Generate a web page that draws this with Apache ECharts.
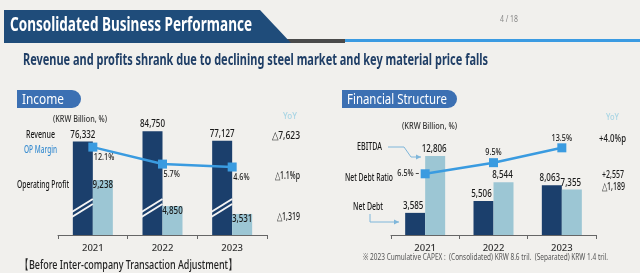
<!DOCTYPE html>
<html>
<head>
<meta charset="utf-8">
<script src="https://cdn.jsdelivr.net/npm/echarts@6/dist/echarts.min.js"></script>
<style>
  html, body { margin: 0; padding: 0; background: #f1f0ed; }
  #chart { width: 640px; height: 273px; }
</style>
</head>
<body>
<div id="chart"></div>
<script>
// data
const years = ['2021', '2022', '2023'];
const revenue = [76332, 84750, 77127];
const opProfit = [9238, 4850, 3531];
const opMargin = [12.1, 5.7, 4.6];
const netDebt = [3585, 5506, 8063];
const ebitda = [12806, 8544, 7355];
const netDebtRatio = [6.5, 9.5, 13.5];
const incomeYoY = ['△7,623', '△1.1%p', '△1,319'];
const structYoY = ['+4.0%p', '+2,557', '△1,189'];

const NAVY = '#1b3f6c';
const LIGHT = '#9cc6d4';
const LINE = '#3a9be0';
const TXT = '#1a1a1a';
const FONT = "'Noto Sans', sans-serif";
const MED = '500';

// measure helper so slide texts can be squeezed like the condensed slide font
const mctx = document.createElement('canvas').getContext('2d');
function txt(x, y, s, size, w, opts) {
  opts = opts || {};
  const weight = opts.weight || 'normal';
  mctx.font = weight + ' ' + size + 'px ' + FONT;
  const sc = opts.sx || (w ? w / mctx.measureText(s).width : 1);
  return {
    type: 'text', x: x, y: y, scaleX: sc, z: 100,
    style: {
      text: s, fontSize: size, fontWeight: weight, fontFamily: FONT,
      fill: opts.color || TXT, align: opts.align || 'left', verticalAlign: 'middle'
    }
  };
}
const fmt = v => v.toLocaleString('en-US');

function pill(x, y, w, h, label, tw) {
  return [
    { type: 'rect', shape: { x: x, y: y, width: w, height: h, r: [0, h / 2, h / 2, 0] },
      style: { fill: '#3c70b3' }, z: 90 },
    txt(x + 5, y + h / 2 + 0.5, label, 15, tw, { color: '#fff' })
  ];
}

function arrow(points, color) {
  const n = points.length;
  const [x1, y1] = points[n - 2], [x2, y2] = points[n - 1];
  const a = Math.atan2(y2 - y1, x2 - x1);
  const L = 5, W = 2.5;
  const head = [
    [x2, y2],
    [x2 - L * Math.cos(a) + W * Math.sin(a), y2 - L * Math.sin(a) - W * Math.cos(a)],
    [x2 - L * Math.cos(a) - W * Math.sin(a), y2 - L * Math.sin(a) + W * Math.cos(a)]
  ];
  return [
    { type: 'polyline', shape: { points: points }, style: { stroke: color, lineWidth: 1, fill: null }, z: 90 },
    { type: 'polygon', shape: { points: head }, style: { fill: color }, z: 90 }
  ];
}

const axisCommon = {
  type: 'category',
  data: years,
  axisLine: { lineStyle: { color: '#666', width: 1 } },
  axisTick: { show: true, length: 4, lineStyle: { color: '#666' } },
  axisLabel: { color: '#333', fontSize: 9.5, margin: 8, fontFamily: FONT, fontWeight: MED }
};
const hiddenY = (min, max, grid) => ({
  type: 'value', gridIndex: grid, min: min, max: max, show: false,
  splitLine: { show: false }
});

const option = {
  backgroundColor: '#f1f0ed',
  animation: false,
  grid: [
    { left: 58, width: 209, top: 120, height: 115, outerBoundsMode: 'none', containLabel: false },
    { left: 391, width: 205, top: 120, height: 115, outerBoundsMode: 'none', containLabel: false }
  ],
  xAxis: [
    Object.assign({ gridIndex: 0 }, axisCommon),
    Object.assign({ gridIndex: 1 }, axisCommon)
  ],
  yAxis: [
    hiddenY(0, 94000, 0),
    hiddenY(0, 19300, 0),
    hiddenY(-21, 22.3, 0),
    hiddenY(0, 18630, 1),
    hiddenY(-10, 21, 1)
  ],
  series: [
    { name: 'Revenue', type: 'bar', xAxisIndex: 0, yAxisIndex: 0,
      data: revenue, barWidth: 20, barGap: '0%', itemStyle: { color: NAVY } },
    { name: 'Operating Profit', type: 'bar', xAxisIndex: 0, yAxisIndex: 1,
      data: opProfit, barWidth: 20, barGap: '0%', itemStyle: { color: LIGHT } },
    { name: 'OP Margin', type: 'line', xAxisIndex: 0, yAxisIndex: 2,
      data: opMargin, symbol: 'rect', symbolSize: 9, z: 5,
      lineStyle: { color: LINE, width: 2.5 }, itemStyle: { color: LINE } },
    { name: 'Net Debt', type: 'bar', xAxisIndex: 1, yAxisIndex: 3,
      data: netDebt, barWidth: 20, barGap: '0%', itemStyle: { color: NAVY } },
    { name: 'EBITDA', type: 'bar', xAxisIndex: 1, yAxisIndex: 3,
      data: ebitda, barWidth: 20, barGap: '0%', itemStyle: { color: LIGHT } },
    { name: 'Net Debt Ratio', type: 'line', xAxisIndex: 1, yAxisIndex: 4,
      data: netDebtRatio, symbol: 'rect', symbolSize: 9, z: 5,
      lineStyle: { color: LINE, width: 2.5 }, itemStyle: { color: LINE } }
  ]
};

const chart = echarts.init(document.getElementById('chart'), null, { renderer: 'canvas' });
chart.setOption(option);

const px = (xi, yi, i, v) => chart.convertToPixel({ xAxisIndex: xi, yAxisIndex: yi }, [i, v]);

// decorations / slide text
const g = [];
// header banner
g.push({ type: 'polygon', shape: { points: [[4, 10], [260, 10], [291, 43], [4, 43]] },
  style: { fill: '#1f4c7a' }, z: 80 });
g.push({ type: 'rect', shape: { x: 217, y: 39, width: 128, height: 4 }, style: { fill: '#4a4a4a' }, z: 79 });
g.push({ type: 'rect', shape: { x: 345, y: 39, width: 295, height: 3 }, style: { fill: '#3b9be2' }, z: 79 });
g.push(txt(10, 26, 'Consolidated Business Performance', 19, 242, { weight: 'bold', color: '#fff' }));
g.push(txt(500, 20, '4 / 18', 8, 18, { color: '#888' }));
g.push(txt(23, 61, 'Revenue and profits shrank due to declining steel market and key material price falls',
  15.5, 465, { weight: 'bold', color: '#1f3e66' }));

// section pills
g.push(...pill(17, 90, 64, 18, 'Income', 42));
g.push(...pill(342, 90, 115, 18, 'Financial Structure', 100));

// income panel texts
g.push(txt(53, 120, '(KRW Billion, %)', 8.5, 54, { color: '#333', weight: MED }));
g.push(txt(55, 135, 'Revenue', 10.5, 29, { align: 'right', weight: MED }));
g.push(txt(57, 150, 'OP Margin', 10.5, 33, { align: 'right', color: '#3a8dd0', weight: MED }));
g.push(txt(69, 185, 'Operating Profit', 10.5, 52, { align: 'right', weight: MED }));
g.push(txt(297, 116, 'YoY', 9.5, 14, { align: 'right', color: '#a9d5e4', weight: MED }));
g.push(txt(300, 136, incomeYoY[0], 11, 28, { align: 'right', weight: MED }));
g.push(txt(300, 176, incomeYoY[1], 11, 25, { align: 'right', weight: MED }));
g.push(txt(300, 217, incomeYoY[2], 11, 23, { align: 'right', weight: MED }));
g.push(txt(20, 265, '【Before Inter-company Transaction Adjustment】', 13, 217, { color: '#222', weight: MED }));

// financial structure texts
g.push(txt(402, 127, '(KRW Billion, %)', 8.5, 55, { color: '#333', weight: MED }));
g.push(txt(382, 147, 'EBITDA', 10.5, 25, { align: 'right', weight: MED }));
g.push(txt(393, 178, 'Net Debt Ratio', 10.5, 48, { align: 'right', weight: MED }));
g.push(txt(383, 207, 'Net Debt', 10.5, 30, { align: 'right', weight: MED }));
g.push(txt(619, 117, 'YoY', 9.5, 13, { align: 'right', color: '#a9d5e4', weight: MED }));
g.push(txt(626, 139, structYoY[0], 11, 27, { align: 'right', weight: MED }));
g.push(txt(624, 175, structYoY[1], 11, 22, { align: 'right', weight: MED }));
g.push(txt(625, 187, structYoY[2], 11, 23, { align: 'right', weight: MED }));
g.push(txt(363, 258, '※ 2023 Cumulative CAPEX :  (Consolidated) KRW 8.6 tril.  (Separated) KRW 1.4 tril.',
  8.5, 245, { color: '#555' }));

// arrows
g.push(...arrow([[388, 147], [404, 147], [411, 157], [421, 157]], '#7fb6da'));
g.push(...arrow([[370, 214], [370, 222], [399, 222]], '#7fb6da'));

// value labels, placed from the axes
const LS = 0.76, LF = 10.5;
const lab = { align: 'center', sx: LS, weight: MED };
years.forEach((y, i) => {
  // income
  let p = px(0, 0, i, revenue[i]);
  g.push(txt(p[0] - 10, p[1] - 7, fmt(revenue[i]), LF, 0, lab));
  // break marks across the revenue bars
  [0, 5].forEach(d => {
    g.push({ type: 'line', z: 60,
      shape: { x1: p[0] - 21, y1: 212 + d, x2: p[0], y2: 199 + d },
      style: { stroke: '#f4f4f4', lineWidth: 2 } });
  });
  p = px(0, 1, i, opProfit[i]);
  g.push(txt(p[0] + 10, p[1] + 5, fmt(opProfit[i]), LF, 0, lab));
  p = px(0, 2, i, opMargin[i]);
  g.push(txt(p[0] + 1, p[1] + 10, opMargin[i] + '%', 9.5, 0, { sx: LS, weight: MED }));
  // financial structure
  p = px(1, 3, i, netDebt[i]);
  g.push(txt(p[0] - 12, p[1] - 7, fmt(netDebt[i]), LF, 0, lab));
  p = px(1, 3, i, ebitda[i]);
  g.push(txt(p[0] + 9, p[1] - 7, fmt(ebitda[i]), LF, 0, lab));
  p = px(1, 4, i, netDebtRatio[i]);
  if (i === 0) {
    g.push(txt(p[0] - 6, p[1], netDebtRatio[i] + '% –', 9.5, 0, { align: 'right', sx: LS, weight: MED }));
  } else {
    g.push(txt(p[0], p[1] - 10, netDebtRatio[i] + '%', 9.5, 0, lab));
  }
});

chart.setOption({ graphic: g });
</script>
</body>
</html>
